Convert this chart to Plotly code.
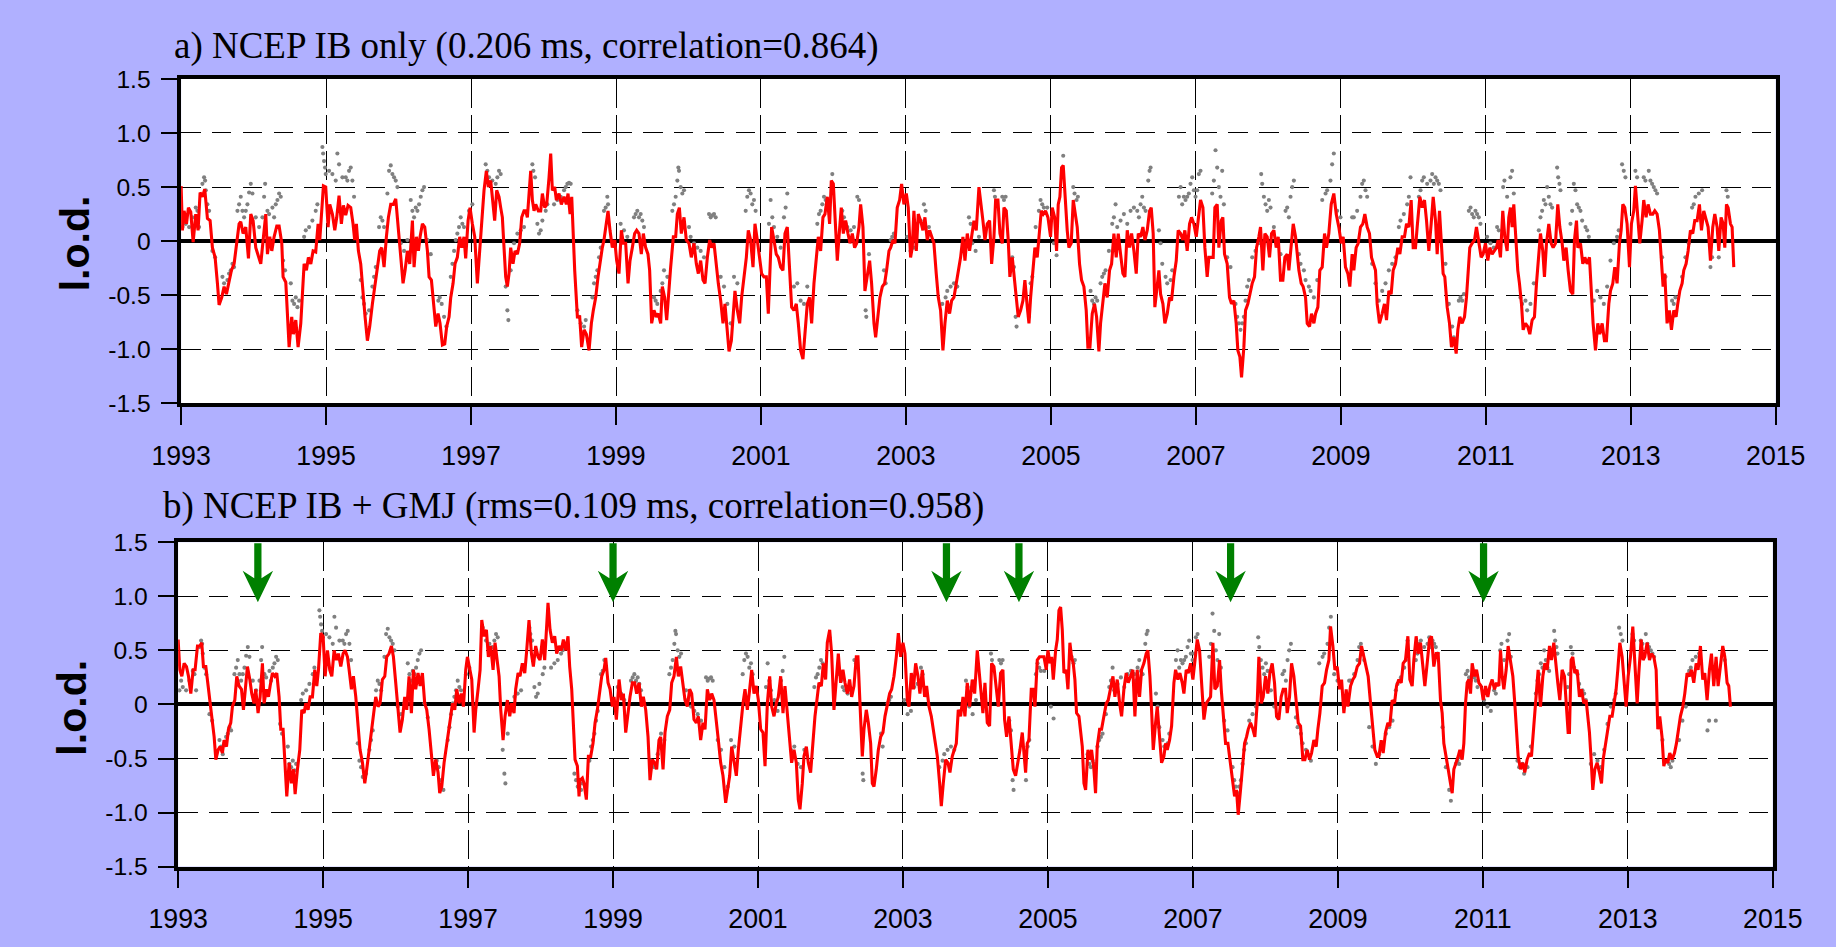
import plotly.graph_objects as go

# ---------------- data (decimal year, l.o.d. in ms) ----------------
# Panel a: model "NCEP IB only" (red line)
RED_A_1993_1998 = [(1993.000,0.51),(1993.018,0.10),(1993.041,0.28),(1993.074,0.16),(1993.101,0.31),(1993.133,0.27),(1993.166,-0.01),(1993.202,0.25),(1993.234,0.10),(1993.262,0.45),(1993.294,0.41),(1993.326,0.48),(1993.363,0.21),(1993.400,0.19),(1993.432,-0.06),(1993.469,-0.15),(1993.501,-0.39),(1993.524,-0.59),(1993.561,-0.52),(1993.593,-0.42),(1993.625,-0.49),(1993.662,-0.36),(1993.694,-0.27),(1993.731,-0.21),(1993.768,-0.02),(1993.800,0.16),(1993.823,0.18),(1993.855,0.07),(1993.892,0.13),(1993.929,-0.16),(1993.961,0.25),(1993.993,0.19),(1994.030,-0.06),(1994.067,-0.15),(1994.099,-0.21),(1994.136,0.04),(1994.168,0.25),(1994.191,-0.12),(1994.223,0.04),(1994.251,-0.09),(1994.283,0.04),(1994.320,0.14),(1994.352,0.14),(1994.389,-0.02),(1994.407,-0.33),(1994.444,-0.38),(1994.467,-0.64),(1994.490,-0.98),(1994.526,-0.70),(1994.549,-0.86),(1994.582,-0.73),(1994.614,-0.98),(1994.651,-0.76),(1994.674,-0.42),(1994.697,-0.21),(1994.729,-0.27),(1994.756,-0.15),(1994.789,-0.21),(1994.821,-0.09),(1994.857,-0.10),(1994.890,0.16),(1994.913,0.01),(1994.940,0.28),(1994.963,0.51),(1994.995,0.50),(1995.028,0.13),(1995.051,0.34),(1995.087,0.25),(1995.120,0.10),(1995.147,0.22),(1995.179,0.42),(1995.211,0.16),(1995.239,0.33),(1995.271,0.24),(1995.303,0.33),(1995.340,0.31),(1995.372,0.16),(1995.395,0.01),(1995.418,0.16),(1995.446,-0.09),(1995.478,-0.21),(1995.510,-0.52),(1995.538,-0.70),(1995.570,-0.92),(1995.602,-0.79),(1995.639,-0.58),(1995.671,-0.42),(1995.708,-0.21),(1995.740,-0.09),(1995.768,-0.06),(1995.800,-0.24),(1995.832,0.04),(1995.860,0.22),(1995.892,0.34),(1995.929,0.34),(1995.961,0.39),(1995.998,0.10),(1996.030,-0.15),(1996.062,-0.39),(1996.090,-0.27),(1996.122,-0.09),(1996.154,-0.21),(1996.191,0.19),(1996.214,-0.24),(1996.246,0.04),(1996.274,-0.09),(1996.297,0.04),(1996.329,0.16),(1996.361,0.13),(1996.398,-0.09),(1996.421,-0.33),(1996.453,-0.36),(1996.480,-0.58),(1996.513,-0.79),(1996.545,-0.67),(1996.572,-0.76),(1996.605,-0.96),(1996.637,-0.95),(1996.664,-0.79),(1996.697,-0.70),(1996.720,-0.52),(1996.752,-0.39),(1996.779,-0.21),(1996.811,-0.15),(1996.844,0.04),(1996.871,-0.06),(1996.903,0.04),(1996.926,-0.16),(1996.959,0.19),(1996.986,0.31),(1997.018,0.16),(1997.051,0.04),(1997.087,-0.39),(1997.120,-0.09),(1997.147,0.19),(1997.179,0.47),(1997.211,0.65),(1997.239,0.50),(1997.271,0.56),(1997.294,0.38),(1997.326,0.19),(1997.354,0.47),(1997.386,0.41),(1997.409,0.31),(1997.432,0.22),(1997.455,-0.06),(1997.478,-0.33),(1997.501,-0.42),(1997.524,-0.30),(1997.547,-0.06),(1997.579,-0.21),(1997.607,-0.09),(1997.639,-0.12),(1997.671,-0.02),(1997.699,0.22),(1997.731,0.28),(1997.754,0.28),(1997.777,0.22),(1997.800,0.47),(1997.823,0.65),(1997.846,0.38),(1997.869,0.28),(1997.892,0.34),(1997.929,0.28),(1997.961,0.28),(1997.984,0.44),(1998.016,0.31),(1998.044,0.34),(1998.076,0.59),(1998.099,0.81),(1998.122,0.47),(1998.154,0.50),(1998.177,0.38),(1998.214,0.44),(1998.246,0.34),(1998.283,0.41),(1998.315,0.34),(1998.338,0.44),(1998.366,0.25),(1998.389,0.41)]
RED_A_1998_2004 = [(1998.430,-0.27),(1998.467,-0.70),(1998.499,-0.70),(1998.526,-0.98),(1998.559,-0.82),(1998.591,-0.86),(1998.628,-1.01),(1998.660,-0.76),(1998.687,-0.64),(1998.720,-0.52),(1998.752,-0.33),(1998.779,-0.18),(1998.811,-0.06),(1998.834,0.01),(1998.862,0.16),(1998.890,0.28),(1998.917,0.10),(1998.949,-0.06),(1998.982,0.01),(1999.009,-0.18),(1999.041,-0.30),(1999.074,0.10),(1999.101,-0.02),(1999.133,-0.02),(1999.166,-0.39),(1999.193,-0.18),(1999.225,-0.06),(1999.257,0.07),(1999.285,0.10),(1999.317,0.07),(1999.349,-0.12),(1999.377,0.07),(1999.409,-0.06),(1999.441,-0.12),(1999.464,-0.27),(1999.492,-0.76),(1999.524,-0.64),(1999.556,-0.70),(1999.584,-0.67),(1999.616,-0.76),(1999.639,-0.42),(1999.671,-0.52),(1999.699,-0.73),(1999.731,-0.39),(1999.754,-0.24),(1999.791,0.04),(1999.823,0.04),(1999.846,0.25),(1999.874,0.31),(1999.901,0.07),(1999.938,0.22),(1999.970,0.01),(2000.007,-0.02),(2000.039,-0.15),(2000.076,-0.02),(2000.108,-0.21),(2000.136,-0.30),(2000.168,-0.18),(2000.200,-0.36),(2000.228,-0.39),(2000.260,-0.15),(2000.292,0.01),(2000.320,-0.06),(2000.352,-0.02),(2000.384,-0.24),(2000.411,-0.39),(2000.444,-0.55),(2000.476,-0.76),(2000.503,-0.58),(2000.536,-0.82),(2000.559,-1.02),(2000.591,-0.92),(2000.618,-0.70),(2000.641,-0.46),(2000.674,-0.64),(2000.706,-0.76),(2000.733,-0.52),(2000.766,-0.33),(2000.798,-0.15),(2000.825,0.10),(2000.857,0.01),(2000.890,-0.24),(2000.917,0.16),(2000.949,0.01),(2000.982,-0.15),(2001.009,-0.30),(2001.041,-0.33),(2001.074,-0.33),(2001.101,-0.67),(2001.124,-0.15),(2001.147,0.13),(2001.179,0.01),(2001.211,-0.12),(2001.239,-0.15),(2001.271,-0.24),(2001.303,-0.27),(2001.331,0.07),(2001.363,0.13),(2001.395,-0.30),(2001.423,-0.61),(2001.455,-0.64),(2001.487,-0.58),(2001.515,-0.76),(2001.547,-1.01),(2001.579,-1.09),(2001.607,-0.82),(2001.639,-0.58),(2001.671,-0.52),(2001.699,-0.76),(2001.731,-0.39),(2001.763,-0.15),(2001.791,0.04),(2001.823,-0.09),(2001.855,0.22),(2001.883,0.25),(2001.915,0.41),(2001.947,0.16),(2001.970,0.56),(2001.998,0.53),(2002.021,0.25),(2002.053,-0.18),(2002.076,0.04),(2002.108,0.31),(2002.136,0.07),(2002.168,0.19),(2002.200,0.07),(2002.228,-0.02),(2002.260,0.07),(2002.292,-0.06),(2002.320,-0.02),(2002.352,0.13),(2002.375,0.34),(2002.407,0.13),(2002.434,-0.46),(2002.467,-0.30),(2002.499,-0.18),(2002.526,-0.39),(2002.559,-0.76),(2002.582,-0.89),(2002.614,-0.70),(2002.641,-0.52),(2002.674,-0.42),(2002.706,-0.39),(2002.733,-0.27),(2002.766,-0.09),(2002.789,-0.06),(2002.821,0.01),(2002.848,-0.02),(2002.880,0.31),(2002.913,0.38),(2002.940,0.53),(2002.972,0.34),(2003.005,0.44),(2003.032,0.31),(2003.064,-0.15),(2003.087,-0.06),(2003.110,0.28),(2003.143,-0.09),(2003.170,0.25),(2003.202,0.19),(2003.234,0.10),(2003.262,0.22),(2003.294,0.01),(2003.326,0.10),(2003.354,0.04),(2003.386,-0.02),(2003.418,-0.30),(2003.446,-0.52),(2003.478,-0.64),(2003.510,-1.01),(2003.538,-0.76),(2003.570,-0.55),(2003.602,-0.67),(2003.630,-0.55),(2003.662,-0.52),(2003.694,-0.39),(2003.722,-0.27),(2003.754,-0.15),(2003.786,0.04),(2003.814,-0.18),(2003.846,0.07),(2003.878,-0.09),(2003.906,0.04),(2003.938,0.19),(2003.970,0.10),(2004.007,0.50)]
RED_A_2004_2009 = [(2004.062,0.19),(2004.090,0.01),(2004.122,0.16),(2004.154,0.19),(2004.182,-0.21),(2004.214,0.04),(2004.237,0.38),(2004.269,0.38),(2004.297,0.07),(2004.329,-0.02),(2004.352,0.31),(2004.384,0.28),(2004.411,0.01),(2004.434,-0.33),(2004.467,-0.15),(2004.490,-0.33),(2004.522,-0.52),(2004.549,-0.70),(2004.582,-0.64),(2004.614,-0.55),(2004.641,-0.36),(2004.674,-0.61),(2004.697,-0.76),(2004.720,-0.52),(2004.752,-0.30),(2004.779,-0.06),(2004.811,-0.15),(2004.834,0.04),(2004.867,0.28),(2004.894,0.25),(2004.926,0.28),(2004.959,0.22),(2004.995,0.04),(2005.018,0.31),(2005.051,0.22),(2005.078,-0.09),(2005.101,0.34),(2005.124,0.41),(2005.147,0.68),(2005.170,0.70),(2005.193,0.41),(2005.225,0.10),(2005.248,-0.06),(2005.280,-0.02),(2005.308,0.38),(2005.340,0.22),(2005.363,0.13),(2005.395,-0.21),(2005.423,-0.36),(2005.455,-0.42),(2005.487,-0.64),(2005.510,-0.98),(2005.538,-0.98),(2005.570,-0.67),(2005.602,-0.58),(2005.630,-0.70),(2005.662,-1.02),(2005.685,-0.76),(2005.717,-0.52),(2005.745,-0.39),(2005.777,-0.52),(2005.809,-0.27),(2005.837,-0.21),(2005.869,0.07),(2005.901,-0.15),(2005.929,0.07),(2005.961,-0.12),(2005.993,-0.30),(2006.021,-0.33),(2006.053,0.10),(2006.085,-0.06),(2006.113,0.07),(2006.145,-0.09),(2006.177,-0.30),(2006.205,0.07),(2006.237,0.04),(2006.269,0.13),(2006.297,0.01),(2006.329,0.10),(2006.361,0.28),(2006.384,0.31),(2006.411,0.07),(2006.434,-0.61),(2006.457,-0.46),(2006.490,-0.27),(2006.513,-0.49),(2006.545,-0.58),(2006.572,-0.76),(2006.605,-0.67),(2006.637,-0.52),(2006.664,-0.55),(2006.697,-0.33),(2006.729,-0.18),(2006.756,0.10),(2006.789,0.07),(2006.821,0.01),(2006.848,0.10),(2006.880,-0.09),(2006.913,0.16),(2006.940,0.22),(2006.972,0.16),(2007.005,0.04),(2007.032,0.22),(2007.064,0.38),(2007.097,0.31),(2007.124,-0.06),(2007.156,-0.33),(2007.179,-0.15),(2007.211,-0.15),(2007.239,-0.15),(2007.262,0.31),(2007.294,0.34),(2007.317,-0.06),(2007.349,0.19),(2007.372,0.22),(2007.395,-0.12),(2007.432,-0.21),(2007.464,-0.52),(2007.492,-0.58),(2007.524,-0.55),(2007.556,-0.76),(2007.579,-1.01),(2007.607,-1.07),(2007.630,-1.26),(2007.662,-0.98),(2007.685,-0.64),(2007.717,-0.58),(2007.745,-0.49),(2007.777,-0.39),(2007.809,-0.33),(2007.837,-0.06),(2007.869,0.04),(2007.892,0.13),(2007.924,-0.27),(2007.952,0.07),(2007.984,0.04),(2008.016,-0.15),(2008.044,0.07),(2008.076,0.10),(2008.108,-0.06),(2008.136,0.04),(2008.168,-0.36),(2008.200,-0.36),(2008.228,-0.15),(2008.260,-0.12),(2008.283,-0.27),(2008.315,-0.06),(2008.343,0.16),(2008.375,0.04),(2008.398,-0.09),(2008.421,-0.27),(2008.453,-0.39),(2008.480,-0.42),(2008.513,-0.52),(2008.536,-0.76),(2008.568,-0.79),(2008.595,-0.67),(2008.628,-0.76),(2008.651,-0.67),(2008.683,-0.61),(2008.710,-0.27),(2008.743,-0.24),(2008.775,0.07),(2008.802,-0.06),(2008.834,0.07),(2008.867,0.34),(2008.903,0.44),(2008.936,0.25),(2008.972,0.13),(2009.005,-0.02),(2009.032,0.04),(2009.064,-0.24),(2009.097,-0.30),(2009.124,-0.42),(2009.156,-0.12),(2009.179,-0.27),(2009.211,-0.06),(2009.239,-0.02),(2009.271,0.13),(2009.303,0.16),(2009.331,0.25),(2009.363,0.13),(2009.395,0.07),(2009.423,-0.15)]
RED_A_2009_2014 = [(2009.478,-0.27),(2009.501,-0.58),(2009.533,-0.76),(2009.570,-0.67),(2009.602,-0.58),(2009.630,-0.73),(2009.662,-0.46),(2009.694,-0.49),(2009.722,-0.27),(2009.754,-0.21),(2009.786,-0.06),(2009.814,-0.12),(2009.846,0.04),(2009.878,0.04),(2009.906,0.16),(2009.938,0.13),(2009.970,0.38),(2009.998,-0.06),(2010.030,-0.06),(2010.053,0.13),(2010.090,0.41),(2010.122,0.31),(2010.154,0.38),(2010.182,0.19),(2010.214,-0.09),(2010.246,0.16),(2010.274,0.41),(2010.306,0.19),(2010.329,-0.12),(2010.361,0.28),(2010.389,-0.06),(2010.411,-0.30),(2010.434,-0.33),(2010.467,-0.61),(2010.499,-0.76),(2010.526,-0.98),(2010.559,-0.89),(2010.591,-1.04),(2010.614,-0.82),(2010.641,-0.70),(2010.674,-0.76),(2010.706,-0.70),(2010.733,-0.52),(2010.756,-0.27),(2010.779,-0.06),(2010.811,-0.02),(2010.844,0.01),(2010.871,0.13),(2010.903,-0.02),(2010.936,-0.15),(2010.963,-0.12),(2010.995,-0.02),(2011.028,-0.18),(2011.055,-0.06),(2011.087,-0.12),(2011.120,-0.09),(2011.147,-0.06),(2011.170,0.01),(2011.202,-0.15),(2011.234,0.28),(2011.262,0.04),(2011.294,-0.09),(2011.317,0.22),(2011.340,0.31),(2011.363,0.13),(2011.386,0.34),(2011.418,-0.02),(2011.441,-0.27),(2011.464,-0.39),(2011.492,-0.58),(2011.515,-0.82),(2011.547,-0.76),(2011.579,-0.79),(2011.607,-0.86),(2011.639,-0.73),(2011.671,-0.70),(2011.699,-0.39),(2011.731,-0.15),(2011.754,0.07),(2011.786,-0.09),(2011.809,-0.33),(2011.837,-0.02),(2011.869,0.16),(2011.901,-0.02),(2011.929,-0.06),(2011.961,-0.02),(2011.993,0.34),(2012.021,0.13),(2012.053,-0.02),(2012.076,-0.18),(2012.108,-0.06),(2012.136,-0.27),(2012.168,-0.46),(2012.200,-0.49),(2012.223,0.01),(2012.251,0.19),(2012.269,-0.06),(2012.306,-0.02),(2012.338,-0.21),(2012.366,-0.15),(2012.398,-0.21),(2012.430,-0.15),(2012.457,-0.46),(2012.480,-0.76),(2012.513,-1.01),(2012.545,-0.76),(2012.572,-0.86),(2012.605,-0.76),(2012.637,-0.92),(2012.664,-0.92),(2012.697,-0.58),(2012.720,-0.46),(2012.752,-0.39),(2012.779,-0.24),(2012.811,-0.39),(2012.844,-0.02),(2012.867,0.10),(2012.890,0.34),(2012.917,0.31),(2012.949,0.16),(2012.982,-0.24),(2013.009,0.16),(2013.041,0.28),(2013.064,0.51),(2013.097,0.22),(2013.124,-0.02),(2013.156,0.19),(2013.179,0.38),(2013.211,0.22),(2013.239,0.34),(2013.271,0.25),(2013.303,0.25),(2013.331,0.28),(2013.363,0.25),(2013.395,0.10),(2013.423,-0.21),(2013.446,-0.42),(2013.469,-0.30),(2013.501,-0.76),(2013.533,-0.64),(2013.561,-0.82),(2013.593,-0.64),(2013.625,-0.70),(2013.648,-0.58),(2013.676,-0.46),(2013.708,-0.39),(2013.731,-0.27),(2013.763,-0.21),(2013.791,-0.09),(2013.823,0.10),(2013.855,0.07),(2013.883,0.19),(2013.915,0.19),(2013.947,0.34),(2013.975,0.10),(2014.007,0.28),(2014.039,0.19),(2014.067,0.13),(2014.099,-0.18),(2014.131,0.13),(2014.159,0.25),(2014.191,0.13),(2014.214,-0.09),(2014.246,0.22),(2014.274,0.16),(2014.297,-0.06),(2014.320,0.34),(2014.343,0.31),(2014.375,0.16),(2014.398,0.13),(2014.421,-0.24)]

# Panel b: model "NCEP IB + GMJ" (red line)
RED_B_1993_1998 = [(1993.000,0.60),(1993.023,0.32),(1993.051,0.26),(1993.083,0.38),(1993.115,0.35),(1993.143,0.26),(1993.175,0.10),(1993.207,0.32),(1993.234,0.32),(1993.267,0.54),(1993.299,0.54),(1993.326,0.57),(1993.349,0.35),(1993.382,0.35),(1993.414,0.17),(1993.441,0.04),(1993.474,-0.17),(1993.497,-0.30),(1993.520,-0.51),(1993.552,-0.42),(1993.579,-0.39),(1993.611,-0.45),(1993.634,-0.33),(1993.667,-0.39),(1993.694,-0.23),(1993.726,-0.17),(1993.749,-0.02),(1993.782,0.04),(1993.809,0.26),(1993.841,0.17),(1993.874,0.14),(1993.901,-0.05),(1993.933,0.20),(1993.956,0.35),(1993.989,0.23),(1994.016,0.10),(1994.048,0.01),(1994.071,0.14),(1994.103,-0.08),(1994.131,0.07),(1994.163,0.38),(1994.186,0.01),(1994.218,0.14),(1994.246,0.07),(1994.269,0.17),(1994.301,0.29),(1994.333,0.26),(1994.361,0.29),(1994.393,0.07),(1994.416,-0.23),(1994.448,-0.23),(1994.476,-0.63),(1994.499,-0.85),(1994.531,-0.54),(1994.563,-0.73),(1994.591,-0.60),(1994.614,-0.83),(1994.646,-0.60),(1994.678,-0.42),(1994.706,-0.05),(1994.738,-0.08),(1994.761,0.01),(1994.793,-0.05),(1994.821,0.07),(1994.853,0.07),(1994.885,0.32),(1994.913,0.17),(1994.936,0.32),(1994.968,0.66),(1995.000,0.63),(1995.028,0.26),(1995.060,0.50),(1995.092,0.32),(1995.120,0.26),(1995.152,0.50),(1995.184,0.41),(1995.211,0.47),(1995.244,0.35),(1995.276,0.47),(1995.303,0.50),(1995.336,0.44),(1995.359,0.32),(1995.391,0.14),(1995.418,0.26),(1995.451,0.07),(1995.483,-0.20),(1995.510,-0.42),(1995.543,-0.54),(1995.575,-0.73),(1995.602,-0.60),(1995.634,-0.42),(1995.667,-0.23),(1995.694,-0.11),(1995.726,0.07),(1995.759,-0.02),(1995.786,0.01),(1995.818,0.23),(1995.851,0.26),(1995.878,0.44),(1995.910,0.47),(1995.943,0.54),(1995.970,0.44),(1996.002,0.20),(1996.034,-0.05),(1996.062,-0.26),(1996.094,-0.14),(1996.126,0.07),(1996.154,-0.05),(1996.186,0.26),(1996.218,-0.08),(1996.246,0.32),(1996.278,0.14),(1996.310,0.29),(1996.338,0.17),(1996.370,0.29),(1996.402,0.01),(1996.430,-0.05),(1996.462,-0.23),(1996.494,-0.48),(1996.522,-0.66),(1996.554,-0.51),(1996.586,-0.63),(1996.609,-0.82),(1996.637,-0.76),(1996.669,-0.54),(1996.701,-0.36),(1996.729,-0.26),(1996.761,-0.11),(1996.784,0.01),(1996.816,-0.05),(1996.844,0.14),(1996.876,0.01),(1996.908,0.10),(1996.936,-0.02),(1996.968,0.32),(1996.991,0.44),(1997.023,0.32),(1997.051,0.23),(1997.083,-0.26),(1997.106,-0.05),(1997.138,0.14),(1997.166,0.32),(1997.189,0.78),(1997.221,0.63),(1997.253,0.69),(1997.280,0.44),(1997.313,0.54),(1997.345,0.32),(1997.372,0.57),(1997.405,0.41),(1997.428,0.26),(1997.451,-0.05),(1997.483,-0.33),(1997.510,-0.11),(1997.543,0.04),(1997.575,-0.11),(1997.602,0.01),(1997.634,-0.08),(1997.657,0.14),(1997.690,0.29),(1997.717,0.26),(1997.749,0.38),(1997.782,0.29),(1997.809,0.50),(1997.841,0.78),(1997.874,0.47),(1997.901,0.35),(1997.933,0.54),(1997.966,0.44),(1997.993,0.41),(1998.025,0.60),(1998.057,0.41),(1998.080,0.72),(1998.103,0.94),(1998.131,0.69),(1998.163,0.57),(1998.195,0.63),(1998.223,0.47),(1998.255,0.54),(1998.287,0.50),(1998.315,0.60),(1998.347,0.50),(1998.379,0.63),(1998.402,0.35),(1998.430,0.14),(1998.453,-0.23),(1998.476,-0.51),(1998.508,-0.57),(1998.531,-0.85)]
RED_B_1998_2004 = [(1998.545,-0.70),(1998.577,-0.68),(1998.600,-0.73),(1998.632,-0.88),(1998.660,-0.48),(1998.692,-0.48),(1998.724,-0.36),(1998.752,-0.17),(1998.784,-0.05),(1998.816,0.10),(1998.844,0.26),(1998.876,0.32),(1998.899,0.43),(1998.931,0.20),(1998.959,0.14),(1998.991,-0.02),(1999.014,0.07),(1999.046,-0.14),(1999.083,0.23),(1999.115,0.04),(1999.143,0.10),(1999.175,-0.26),(1999.207,-0.05),(1999.234,0.07),(1999.267,0.20),(1999.299,0.20),(1999.326,0.10),(1999.359,0.20),(1999.391,-0.02),(1999.418,0.07),(1999.451,-0.05),(1999.483,-0.30),(1999.510,-0.70),(1999.543,-0.51),(1999.575,-0.54),(1999.602,-0.60),(1999.634,-0.33),(1999.657,-0.30),(1999.690,-0.60),(1999.717,-0.26),(1999.749,-0.11),(1999.782,-0.05),(1999.809,0.20),(1999.841,0.26),(1999.874,0.44),(1999.901,0.26),(1999.933,0.35),(1999.966,0.17),(1999.993,0.04),(2000.025,-0.02),(2000.057,0.14),(2000.085,0.10),(2000.117,-0.14),(2000.149,-0.17),(2000.177,-0.11),(2000.209,-0.33),(2000.241,-0.17),(2000.269,-0.23),(2000.301,0.14),(2000.333,0.04),(2000.361,0.10),(2000.393,0.04),(2000.425,-0.20),(2000.453,-0.33),(2000.485,-0.54),(2000.517,-0.66),(2000.554,-0.91),(2000.577,-0.79),(2000.609,-0.66),(2000.637,-0.39),(2000.669,-0.54),(2000.701,-0.66),(2000.729,-0.42),(2000.761,-0.17),(2000.793,0.01),(2000.821,0.14),(2000.853,-0.05),(2000.885,0.14),(2000.913,0.32),(2000.945,0.10),(2000.977,0.17),(2001.005,0.04),(2001.037,-0.23),(2001.069,-0.26),(2001.097,-0.57),(2001.129,0.01),(2001.161,0.26),(2001.189,-0.02),(2001.221,-0.11),(2001.253,0.01),(2001.280,0.07),(2001.313,0.26),(2001.345,-0.08),(2001.372,0.17),(2001.405,-0.08),(2001.437,-0.36),(2001.464,-0.54),(2001.497,-0.42),(2001.529,-0.54),(2001.556,-0.88),(2001.579,-0.97),(2001.611,-0.73),(2001.634,-0.48),(2001.667,-0.39),(2001.694,-0.54),(2001.726,-0.63),(2001.759,-0.30),(2001.786,-0.11),(2001.818,0.07),(2001.841,0.20),(2001.874,0.17),(2001.901,0.38),(2001.933,0.23),(2001.956,0.57),(2001.989,0.69),(2002.016,0.47),(2002.048,-0.05),(2002.080,0.20),(2002.108,0.47),(2002.140,0.20),(2002.172,0.32),(2002.200,0.20),(2002.232,0.10),(2002.264,0.23),(2002.292,0.07),(2002.324,0.17),(2002.356,0.44),(2002.379,0.44),(2002.407,-0.05),(2002.439,-0.48),(2002.462,-0.23),(2002.494,-0.05),(2002.522,-0.17),(2002.554,-0.36),(2002.577,-0.73),(2002.600,-0.76),(2002.632,-0.60),(2002.660,-0.42),(2002.692,-0.30),(2002.724,-0.26),(2002.752,-0.11),(2002.784,0.01),(2002.816,0.10),(2002.844,0.14),(2002.876,0.26),(2002.908,0.44),(2002.936,0.66),(2002.968,0.44),(2003.000,0.57),(2003.028,0.47),(2003.060,0.04),(2003.083,-0.02),(2003.115,0.29),(2003.143,0.14),(2003.175,0.38),(2003.207,0.26),(2003.234,0.10),(2003.267,0.32),(2003.299,0.07),(2003.326,0.17),(2003.359,-0.02),(2003.391,-0.11),(2003.418,-0.23),(2003.451,-0.39),(2003.474,-0.48),(2003.506,-0.73),(2003.529,-0.94),(2003.556,-0.73),(2003.589,-0.51),(2003.621,-0.54),(2003.648,-0.63),(2003.680,-0.48),(2003.703,-0.42),(2003.736,-0.36),(2003.763,-0.05),(2003.795,-0.11),(2003.828,0.07),(2003.855,-0.11),(2003.887,0.20),(2003.920,-0.02),(2003.956,0.23),(2003.989,0.10),(2004.025,0.50)]
RED_B_2004_2009 = [(2004.071,0.17),(2004.103,-0.08),(2004.131,0.20),(2004.163,-0.17),(2004.195,-0.20),(2004.223,0.38),(2004.255,0.35),(2004.287,0.17),(2004.315,-0.02),(2004.347,0.29),(2004.379,0.32),(2004.402,-0.14),(2004.430,-0.30),(2004.462,-0.11),(2004.494,-0.36),(2004.522,-0.60),(2004.554,-0.66),(2004.586,-0.54),(2004.614,-0.42),(2004.646,-0.26),(2004.669,-0.42),(2004.692,-0.63),(2004.715,-0.36),(2004.738,-0.33),(2004.770,0.14),(2004.798,0.14),(2004.821,-0.02),(2004.853,0.41),(2004.885,0.44),(2004.913,0.44),(2004.945,0.44),(2004.977,0.32),(2005.000,0.50),(2005.028,0.38),(2005.051,0.44),(2005.074,0.23),(2005.106,0.50),(2005.129,0.60),(2005.152,0.87),(2005.175,0.90),(2005.198,0.69),(2005.221,0.29),(2005.253,0.32),(2005.276,0.14),(2005.303,0.57),(2005.326,0.44),(2005.349,0.38),(2005.372,0.23),(2005.395,-0.08),(2005.428,-0.11),(2005.451,-0.23),(2005.474,-0.39),(2005.497,-0.73),(2005.520,-0.79),(2005.552,-0.42),(2005.579,-0.51),(2005.602,-0.42),(2005.634,-0.60),(2005.657,-0.82),(2005.680,-0.39),(2005.713,-0.23),(2005.740,-0.23),(2005.772,-0.11),(2005.805,0.01),(2005.832,0.04),(2005.864,0.14),(2005.897,0.26),(2005.924,0.07),(2005.956,0.23),(2005.989,0.01),(2006.016,-0.11),(2006.048,0.14),(2006.080,0.29),(2006.108,0.20),(2006.140,0.26),(2006.172,0.32),(2006.200,-0.11),(2006.232,0.32),(2006.264,0.07),(2006.292,0.32),(2006.324,0.38),(2006.356,0.47),(2006.379,0.50),(2006.407,0.26),(2006.430,-0.05),(2006.453,-0.42),(2006.485,-0.17),(2006.508,-0.02),(2006.540,-0.30),(2006.568,-0.54),(2006.600,-0.48),(2006.623,-0.36),(2006.646,-0.42),(2006.678,-0.33),(2006.706,-0.20),(2006.738,0.20),(2006.761,0.32),(2006.793,0.23),(2006.821,0.29),(2006.853,0.20),(2006.876,0.10),(2006.908,0.32),(2006.936,0.29),(2006.968,0.38),(2007.000,0.23),(2007.028,0.41),(2007.060,0.60),(2007.092,0.50),(2007.120,0.20),(2007.152,-0.14),(2007.184,0.01),(2007.211,0.04),(2007.244,0.07),(2007.276,0.57),(2007.303,0.14),(2007.336,0.17),(2007.368,0.41),(2007.391,0.14),(2007.418,-0.11),(2007.451,-0.36),(2007.483,-0.36),(2007.510,-0.51),(2007.543,-0.70),(2007.575,-0.85),(2007.602,-0.79),(2007.625,-1.02),(2007.657,-0.79),(2007.690,-0.54),(2007.713,-0.36),(2007.740,-0.30),(2007.763,-0.23),(2007.795,-0.17),(2007.828,-0.23),(2007.855,-0.30),(2007.887,0.01),(2007.910,0.44),(2007.943,0.01),(2007.970,0.07),(2008.002,0.26),(2008.034,0.10),(2008.062,0.29),(2008.094,0.38),(2008.126,0.20),(2008.154,-0.11),(2008.186,-0.14),(2008.218,0.07),(2008.246,0.14),(2008.278,0.14),(2008.301,-0.08),(2008.333,0.07),(2008.361,0.38),(2008.393,0.26),(2008.425,0.01),(2008.453,-0.17),(2008.485,-0.20),(2008.517,-0.51),(2008.545,-0.51),(2008.577,-0.42),(2008.609,-0.51),(2008.637,-0.45),(2008.669,-0.33),(2008.701,-0.39),(2008.724,-0.23),(2008.752,-0.08),(2008.784,0.17),(2008.816,0.20),(2008.844,0.32),(2008.876,0.41),(2008.899,0.72),(2008.931,0.54),(2008.959,0.32),(2008.991,0.35),(2009.023,0.14),(2009.051,0.23),(2009.083,-0.08),(2009.115,0.14),(2009.138,-0.02),(2009.175,0.17),(2009.207,0.23),(2009.234,0.26),(2009.267,0.35),(2009.299,0.38),(2009.326,0.54),(2009.359,0.44),(2009.391,0.32),(2009.418,0.26),(2009.451,0.01),(2009.483,-0.23),(2009.510,-0.42),(2009.543,-0.48)]
RED_B_2009_2014 = [(2009.566,-0.48),(2009.598,-0.33),(2009.625,-0.45),(2009.657,-0.26),(2009.690,-0.17),(2009.717,-0.20),(2009.749,0.04),(2009.782,0.01),(2009.809,0.17),(2009.841,0.23),(2009.874,0.20),(2009.901,0.38),(2009.933,0.41),(2009.966,0.63),(2009.993,0.23),(2010.025,0.17),(2010.048,0.41),(2010.080,0.63),(2010.108,0.47),(2010.140,0.57),(2010.172,0.38),(2010.200,0.17),(2010.232,0.38),(2010.264,0.60),(2010.292,0.63),(2010.324,0.35),(2010.356,0.47),(2010.384,0.47),(2010.416,0.04),(2010.439,-0.08),(2010.462,-0.36),(2010.494,-0.51),(2010.522,-0.60),(2010.554,-0.73),(2010.577,-0.82),(2010.600,-0.60),(2010.632,-0.54),(2010.660,-0.48),(2010.683,-0.42),(2010.715,-0.51),(2010.738,-0.36),(2010.761,0.01),(2010.784,0.20),(2010.807,0.23),(2010.830,0.10),(2010.853,0.38),(2010.885,0.26),(2010.913,0.32),(2010.945,0.20),(2010.977,0.17),(2011.005,0.04),(2011.037,0.17),(2011.069,0.07),(2011.097,0.17),(2011.129,0.23),(2011.161,0.14),(2011.189,0.20),(2011.221,0.17),(2011.244,0.50),(2011.267,0.26),(2011.290,0.14),(2011.322,0.32),(2011.349,0.54),(2011.382,0.38),(2011.414,0.26),(2011.441,0.01),(2011.464,-0.30),(2011.487,-0.48),(2011.520,-0.60),(2011.552,-0.54),(2011.579,-0.63),(2011.611,-0.51),(2011.644,-0.45),(2011.671,-0.48),(2011.703,-0.20),(2011.736,0.10),(2011.763,0.32),(2011.795,-0.02),(2011.828,0.26),(2011.855,0.38),(2011.887,0.32),(2011.920,0.54),(2011.947,0.41),(2011.979,0.57),(2012.002,0.44),(2012.034,0.20),(2012.062,0.04),(2012.094,0.32),(2012.126,0.26),(2012.154,-0.08),(2012.177,-0.26),(2012.195,-0.26),(2012.218,0.41),(2012.241,0.44),(2012.269,0.29),(2012.301,0.32),(2012.333,0.07),(2012.361,0.14),(2012.393,0.01),(2012.425,0.04),(2012.453,-0.11),(2012.471,-0.26),(2012.494,-0.51),(2012.517,-0.79),(2012.545,-0.60),(2012.577,-0.54),(2012.609,-0.63),(2012.637,-0.73),(2012.660,-0.51),(2012.692,-0.36),(2012.724,-0.23),(2012.752,-0.11),(2012.784,-0.11),(2012.807,0.01),(2012.839,0.14),(2012.862,0.32),(2012.890,0.57),(2012.922,0.44),(2012.954,0.20),(2012.977,-0.02),(2013.005,0.26),(2013.037,0.44),(2013.069,0.72),(2013.097,0.41),(2013.129,0.01),(2013.152,0.29),(2013.184,0.60),(2013.211,0.41),(2013.234,0.44),(2013.267,0.57),(2013.299,0.41),(2013.326,0.47),(2013.359,0.44),(2013.391,0.32),(2013.414,-0.23),(2013.441,-0.11),(2013.472,-0.30),(2013.497,-0.57),(2013.520,-0.51),(2013.552,-0.54),(2013.579,-0.45),(2013.611,-0.51),(2013.644,-0.45),(2013.671,-0.36),(2013.703,-0.23),(2013.726,-0.11),(2013.759,-0.02),(2013.786,0.10),(2013.818,0.29),(2013.851,0.26),(2013.878,0.32),(2013.910,0.20),(2013.943,0.38),(2013.970,0.32),(2014.002,0.54),(2014.034,0.23),(2014.062,0.29),(2014.094,0.04),(2014.126,0.32),(2014.154,0.47),(2014.186,0.17),(2014.218,0.44),(2014.246,0.17),(2014.278,0.38),(2014.310,0.54),(2014.338,0.44),(2014.370,0.20),(2014.393,0.17),(2014.416,-0.02)]

# Observed l.o.d. (grey dots, same in both panels)
OBS_1993_1998 = [(1993.018,0.13),(1993.041,0.22),(1993.064,0.16),(1993.110,0.13),(1993.156,0.22),(1993.202,0.31),(1993.225,0.28),(1993.248,0.13),(1993.294,0.53),(1993.317,0.59),(1993.331,0.56),(1993.340,0.47),(1993.363,0.34),(1993.386,0.28),(1993.432,-0.09),(1993.469,-0.15),(1993.570,-0.33),(1993.593,-0.39),(1993.616,-0.46),(1993.639,-0.36),(1993.662,-0.30),(1993.685,-0.27),(1993.708,-0.21),(1993.731,-0.24),(1993.777,0.28),(1993.800,0.34),(1993.823,0.41),(1993.846,0.28),(1993.869,0.22),(1993.892,0.28),(1993.915,0.34),(1993.938,0.45),(1993.961,0.53),(1993.984,0.44),(1994.030,0.22),(1994.076,0.13),(1994.122,0.22),(1994.145,0.41),(1994.159,0.53),(1994.191,0.28),(1994.214,0.25),(1994.260,0.31),(1994.283,0.22),(1994.306,0.34),(1994.329,0.38),(1994.352,0.44),(1994.375,0.41),(1994.407,-0.18),(1994.434,-0.27),(1994.513,-0.39),(1994.536,-0.55),(1994.559,-0.58),(1994.582,-0.52),(1994.605,-0.61),(1994.628,-0.55),(1994.697,0.04),(1994.720,0.10),(1994.766,0.13),(1994.811,0.19),(1994.857,0.28),(1994.880,0.34),(1994.949,0.87),(1994.959,0.81),(1994.972,0.74),(1994.986,0.68),(1994.995,0.62),(1995.041,0.65),(1995.087,0.62),(1995.133,0.56),(1995.156,0.81),(1995.179,0.71),(1995.225,0.59),(1995.271,0.59),(1995.294,0.56),(1995.317,0.65),(1995.340,0.68),(1995.363,0.56),(1995.386,0.41),(1995.478,-0.36),(1995.501,-0.52),(1995.524,-0.58),(1995.547,-0.67),(1995.593,-0.64),(1995.639,-0.42),(1995.662,-0.33),(1995.685,-0.24),(1995.731,0.13),(1995.754,0.22),(1995.777,0.19),(1995.800,0.13),(1995.846,0.44),(1995.869,0.65),(1995.892,0.70),(1995.915,0.62),(1995.938,0.59),(1995.961,0.56),(1995.984,0.50),(1996.030,-0.02),(1996.076,-0.09),(1996.122,0.01),(1996.168,0.38),(1996.191,0.28),(1996.214,0.22),(1996.237,0.31),(1996.260,0.28),(1996.283,0.34),(1996.306,0.41),(1996.329,0.47),(1996.352,0.50),(1996.398,0.01),(1996.444,-0.12),(1996.549,-0.55),(1996.568,-0.52),(1996.595,-0.58),(1996.628,-0.70),(1996.660,-0.79),(1996.720,-0.33),(1996.743,-0.21),(1996.766,-0.09),(1996.789,0.01),(1996.811,0.07),(1996.834,0.13),(1996.857,0.22),(1996.880,0.16),(1996.903,0.13),(1996.972,0.28),(1997.018,0.34),(1997.202,0.71),(1997.225,0.65),(1997.248,0.59),(1997.294,0.56),(1997.340,0.53),(1997.363,0.59),(1997.386,0.65),(1997.409,0.62),(1997.478,-0.42),(1997.501,-0.64),(1997.515,-0.73),(1997.547,-0.27),(1997.593,-0.02),(1997.639,0.07),(1997.685,0.10),(1997.731,0.13),(1997.846,0.71),(1997.860,0.65),(1997.883,0.59),(1997.915,0.16),(1997.938,0.07),(1997.961,0.10),(1997.984,0.19),(1998.030,0.28),(1998.053,0.34),(1998.145,0.34),(1998.191,0.38),(1998.237,0.41),(1998.283,0.47),(1998.306,0.50),(1998.329,0.53),(1998.352,0.54),(1998.375,0.53)]
OBS_1998_2004 = [(1998.467,-0.64),(1998.490,-0.70),(1998.513,-0.76),(1998.559,-0.79),(1998.582,-0.73),(1998.674,-0.52),(1998.697,-0.39),(1998.720,-0.33),(1998.743,-0.27),(1998.766,-0.15),(1998.789,-0.06),(1998.834,0.28),(1998.857,0.31),(1998.880,0.41),(1998.890,0.34),(1999.064,0.16),(1999.110,0.10),(1999.156,0.04),(1999.248,0.22),(1999.271,0.25),(1999.294,0.28),(1999.317,0.22),(1999.340,0.25),(1999.363,0.19),(1999.386,0.13),(1999.524,-0.52),(1999.547,-0.55),(1999.570,-0.58),(1999.616,-0.46),(1999.639,-0.39),(1999.662,-0.27),(1999.708,-0.33),(1999.777,0.28),(1999.800,0.34),(1999.823,0.41),(1999.846,0.56),(1999.860,0.68),(1999.869,0.65),(1999.892,0.50),(1999.915,0.44),(1999.938,0.47),(2000.007,0.13),(2000.030,0.04),(2000.076,-0.02),(2000.122,-0.06),(2000.168,-0.09),(2000.214,-0.15),(2000.283,0.25),(2000.306,0.22),(2000.329,0.24),(2000.352,0.25),(2000.375,0.22),(2000.444,-0.33),(2000.490,-0.42),(2000.536,-0.58),(2000.582,-0.76),(2000.628,-0.33),(2000.674,-0.39),(2000.789,0.28),(2000.811,0.41),(2000.834,0.47),(2000.857,0.44),(2000.880,0.34),(2000.903,0.38),(2000.926,0.28),(2001.110,0.16),(2001.133,0.38),(2001.156,0.22),(2001.179,0.13),(2001.225,0.04),(2001.271,-0.06),(2001.317,0.22),(2001.340,0.31),(2001.363,0.44),(2001.455,-0.42),(2001.501,-0.39),(2001.547,-0.55),(2001.593,-0.58),(2001.639,-0.42),(2001.777,0.16),(2001.800,0.25),(2001.823,0.28),(2001.846,0.34),(2001.869,0.41),(2001.892,0.38),(2001.984,0.62),(2002.122,0.28),(2002.145,0.22),(2002.168,0.16),(2002.191,0.13),(2002.237,0.10),(2002.283,0.13),(2002.329,0.41),(2002.352,0.38),(2002.444,-0.64),(2002.453,-0.70),(2002.490,-0.12),(2002.697,-0.27),(2002.720,-0.39),(2002.789,0.01),(2002.811,0.04),(2002.834,0.07),(2003.018,0.04),(2003.064,-0.09),(2003.110,-0.06),(2003.156,0.16),(2003.202,0.19),(2003.248,0.34),(2003.271,0.28),(2003.317,0.13),(2003.501,-0.58),(2003.547,-0.52),(2003.570,-0.46),(2003.616,-0.42),(2003.662,-0.39),(2003.708,-0.42),(2003.869,0.22),(2003.892,0.16)]
OBS_2004_2009 = [(2003.915,-0.02),(2003.961,-0.09),(2004.007,0.04),(2004.214,0.47),(2004.228,0.41),(2004.329,0.41),(2004.352,0.38),(2004.375,0.41),(2004.467,-0.15),(2004.490,-0.24),(2004.513,-0.70),(2004.526,-0.79),(2004.697,-0.70),(2004.720,-0.39),(2004.743,-0.33),(2004.789,0.13),(2004.834,0.28),(2004.857,0.38),(2004.880,0.34),(2004.903,0.31),(2004.949,0.31),(2005.041,-0.02),(2005.078,-0.13),(2005.170,0.79),(2005.308,0.50),(2005.326,0.44),(2005.354,0.38),(2005.372,0.41),(2005.547,-0.46),(2005.570,-0.55),(2005.593,-0.58),(2005.616,-0.52),(2005.639,-0.55),(2005.685,-0.39),(2005.708,-0.33),(2005.731,-0.30),(2005.754,-0.27),(2005.800,-0.09),(2005.846,0.16),(2005.869,0.22),(2005.892,0.34),(2005.915,0.13),(2005.961,0.19),(2006.007,0.25),(2006.053,0.16),(2006.099,0.28),(2006.145,0.31),(2006.191,0.28),(2006.214,0.22),(2006.237,0.34),(2006.260,0.41),(2006.283,0.31),(2006.306,0.28),(2006.343,0.56),(2006.361,0.65),(2006.375,0.68),(2006.490,0.10),(2006.513,-0.02),(2006.536,-0.21),(2006.582,-0.33),(2006.605,-0.39),(2006.651,-0.36),(2006.674,-0.27),(2006.766,0.41),(2006.789,0.50),(2006.811,0.34),(2006.834,0.41),(2006.857,0.38),(2006.880,0.41),(2006.903,0.44),(2006.926,0.53),(2006.949,0.59),(2006.972,0.47),(2006.995,0.41),(2007.018,0.47),(2007.041,0.62),(2007.064,0.65),(2007.225,0.44),(2007.248,0.56),(2007.271,0.84),(2007.294,0.68),(2007.317,0.50),(2007.340,0.41),(2007.363,0.65),(2007.386,0.34),(2007.432,-0.15),(2007.478,-0.24),(2007.547,-0.58),(2007.570,-0.70),(2007.593,-0.76),(2007.616,-0.82),(2007.639,-0.76),(2007.662,-0.70),(2007.685,-0.55),(2007.708,-0.42),(2007.731,-0.36),(2007.777,-0.15),(2007.823,-0.09),(2007.869,-0.02),(2007.901,0.62),(2007.915,0.53),(2007.938,0.41),(2007.961,0.34),(2007.984,0.28),(2008.007,0.38),(2008.030,0.31),(2008.076,0.13),(2008.122,-0.02),(2008.168,-0.12),(2008.237,0.28),(2008.260,0.31),(2008.283,0.22),(2008.306,0.41),(2008.329,0.50),(2008.352,0.56),(2008.421,-0.12),(2008.444,-0.21),(2008.490,-0.27),(2008.513,-0.36),(2008.559,-0.42),(2008.582,-0.46),(2008.628,-0.52),(2008.674,-0.36),(2008.743,0.38),(2008.789,0.44),(2008.811,0.47),(2008.857,0.56),(2008.880,0.71),(2008.903,0.81),(2008.949,0.28),(2008.995,0.22),(2009.156,0.22),(2009.179,0.22),(2009.225,0.28),(2009.271,0.41),(2009.294,0.53),(2009.317,0.56),(2009.340,0.47),(2009.363,0.41),(2009.432,-0.21),(2009.478,-0.39)]
OBS_2009_2014 = [(2009.524,-0.55),(2009.570,-0.46),(2009.616,-0.39),(2009.662,-0.27),(2009.708,-0.21),(2009.754,-0.15),(2009.800,0.13),(2009.823,0.19),(2009.869,0.25),(2009.915,0.34),(2009.938,0.41),(2009.961,0.59),(2010.076,0.41),(2010.099,0.47),(2010.122,0.56),(2010.145,0.59),(2010.191,0.53),(2010.237,0.56),(2010.260,0.62),(2010.283,0.53),(2010.306,0.59),(2010.329,0.56),(2010.352,0.53),(2010.375,0.47),(2010.444,-0.21),(2010.490,-0.58),(2010.536,-0.79),(2010.559,-0.89),(2010.628,-0.55),(2010.651,-0.52),(2010.674,-0.55),(2010.697,-0.49),(2010.766,0.28),(2010.789,0.31),(2010.811,0.25),(2010.834,0.22),(2010.857,0.28),(2010.880,0.25),(2010.903,0.22),(2010.926,0.16),(2011.018,0.04),(2011.064,-0.02),(2011.110,-0.06),(2011.156,0.13),(2011.179,0.10),(2011.239,0.50),(2011.257,0.56),(2011.294,0.41),(2011.340,0.59),(2011.363,0.65),(2011.386,0.44),(2011.478,-0.52),(2011.501,-0.58),(2011.547,-0.55),(2011.570,-0.64),(2011.616,-0.58),(2011.662,-0.39),(2011.731,0.10),(2011.754,0.22),(2011.777,0.28),(2011.800,0.38),(2011.823,0.34),(2011.846,0.50),(2011.869,0.41),(2011.892,0.34),(2011.915,0.31),(2011.984,0.68),(2011.998,0.59),(2012.016,0.53),(2012.030,0.47),(2012.168,0.16),(2012.191,0.28),(2012.214,0.53),(2012.237,0.47),(2012.260,0.34),(2012.283,0.31),(2012.306,0.28),(2012.329,0.19),(2012.375,0.13),(2012.398,0.10),(2012.421,0.04),(2012.490,-0.55),(2012.536,-0.46),(2012.582,-0.52),(2012.628,-0.58),(2012.674,-0.42),(2012.720,-0.18),(2012.766,-0.02),(2012.811,0.04),(2012.834,0.10),(2012.880,0.71),(2012.903,0.65),(2012.926,0.59),(2013.064,0.65),(2013.087,0.59),(2013.179,0.59),(2013.202,0.56),(2013.248,0.65),(2013.271,0.56),(2013.294,0.53),(2013.317,0.50),(2013.340,0.47),(2013.363,0.44),(2013.432,-0.15),(2013.478,-0.33),(2013.570,-0.55),(2013.593,-0.58),(2013.616,-0.52),(2013.708,-0.33),(2013.754,-0.15),(2013.800,-0.02),(2013.846,0.31),(2013.869,0.34),(2013.892,0.41),(2013.938,0.44),(2013.984,0.47),(2014.099,-0.24),(2014.122,-0.15),(2014.214,-0.15),(2014.320,0.47),(2014.338,0.41)]

ARROW_YEARS = [1994.10, 1999.00, 2003.60, 2004.60, 2007.52, 2011.01]
X_TICKS = list(range(1993, 2016, 2))
Y_TICKS = [-1.5, -1.0, -0.5, 0, 0.5, 1.0, 1.5]
Y_TICKTEXT = ["-1.5", "-1.0", "-0.5", "0", "0.5", "1.0", "1.5"]
TITLE_A = "a) NCEP IB only (0.206 ms, correlation=0.864)"
TITLE_B = "b) NCEP IB + GMJ (rms=0.109 ms, correlation=0.958)"
Y_LABEL = "l.o.d."

# ---------------- figure ----------------
W, H = 1836, 947
LAV = "#b0b0ff"
# the captured picture shows the page slightly reduced and shifted; compensate
S, OX, OY = 0.973, 26.0, 14.0

def split(pairs):
    return [p[0] for p in pairs], [p[1] for p in pairs]

def fx(q):
    return ((q - OX) / S) / W

def fy(q):
    return 1 - ((q - OY) / S) / H

def sz(v):
    return v / S

red_a = RED_A_1993_1998 + RED_A_1998_2004 + RED_A_2004_2009 + RED_A_2009_2014
red_b = RED_B_1993_1998 + RED_B_1998_2004 + RED_B_2004_2009 + RED_B_2009_2014
obs = OBS_1993_1998 + OBS_1998_2004 + OBS_2004_2009 + OBS_2009_2014

ox, oy = split(obs)
ax_, ay_ = split(red_a)
bx_, by_ = split(red_b)

fig = go.Figure()
for xa, ya, rx, ry in [("x", "y", ax_, ay_), ("x2", "y2", bx_, by_)]:
    fig.add_trace(go.Scatter(x=ox, y=oy, mode="markers", xaxis=xa, yaxis=ya,
                             marker=dict(color="#808080", size=sz(4)), showlegend=False,
                             hoverinfo="skip"))
    fig.add_trace(go.Scatter(x=rx, y=ry, mode="lines", xaxis=xa, yaxis=ya,
                             line=dict(color="#ff0000", width=sz(3)), showlegend=False))

def dash(a, b):
    return f"{sz(a):.1f}px,{sz(b):.1f}px"

xcommon = dict(range=[1993, 2015], tickmode="array", tickvals=X_TICKS,
               ticktext=[str(t) for t in X_TICKS], ticks="outside", ticklen=sz(17),
               tickwidth=sz(1.5), tickcolor="black", showline=True, linewidth=sz(4),
               linecolor="black", mirror=True, showgrid=True, gridcolor="black",
               gridwidth=sz(1), griddash=dash(28, 7), zeroline=False,
               tickfont=dict(family="Liberation Sans, Arial", size=sz(26), color="black"),
               ticklabelstandoff=int(round(sz(8))), fixedrange=True)
ycommon = dict(range=[-1.5, 1.5], tickmode="array", tickvals=Y_TICKS,
               ticktext=Y_TICKTEXT, ticks="outside", ticklen=sz(16), tickwidth=sz(1.5),
               tickcolor="black", showline=True, linewidth=sz(4), linecolor="black",
               mirror=True, showgrid=True, gridcolor="black", gridwidth=sz(1),
               griddash=dash(19, 11), zeroline=True, zerolinecolor="black",
               zerolinewidth=sz(4),
               tickfont=dict(family="Liberation Sans, Arial", size=sz(24), color="black"),
               ticklabelstandoff=int(round(sz(5))), fixedrange=True)

fig.update_layout(
    autosize=True, margin=dict(l=0, r=0, t=0, b=0),
    paper_bgcolor=LAV, plot_bgcolor="white",
    xaxis=dict(domain=[fx(178), fx(1782)], anchor="y", **xcommon),
    yaxis=dict(domain=[fy(405), fy(80)], anchor="x", **ycommon),
    xaxis2=dict(domain=[fx(175), fx(1779)], anchor="y2", **xcommon),
    yaxis2=dict(domain=[fy(869), fy(544)], anchor="x2", **ycommon),
)

serif = dict(family="Liberation Serif, Times New Roman", size=sz(36), color="black")
fig.add_annotation(text=TITLE_A, x=fx(169), y=fy(47), xref="paper", yref="paper",
                   xanchor="left", yanchor="middle", showarrow=False, font=serif)
fig.add_annotation(text=TITLE_B, x=fx(158), y=fy(508), xref="paper", yref="paper",
                   xanchor="left", yanchor="middle", showarrow=False, font=serif)
for yc, xc in [(245, 71), (710, 68)]:
    fig.add_annotation(text="<b>" + Y_LABEL + "</b>", x=fx(xc), y=fy(yc),
                       xref="paper", yref="paper", xanchor="center", yanchor="middle",
                       textangle=-90, showarrow=False,
                       font=dict(family="Liberation Sans, Arial", size=sz(40), color="black"))

# green arrows in panel b
shapes = []
hs, hh = 0.05, 0.21
for yr in ARROW_YEARS:
    path = (f"M {yr-hs},1.49 L {yr+hs},1.49 L {yr+hs},1.166 L {yr+hh},1.237 "
            f"L {yr},0.945 L {yr-hh},1.237 L {yr-hs},1.166 Z")
    shapes.append(dict(type="path", xref="x2", yref="y2", path=path,
                       fillcolor="#008000", line=dict(width=0), layer="above"))
fig.update_layout(shapes=shapes)

fig.write_html("out.html", config={"responsive": True, "displayModeBar": False},
               default_width="100vw", default_height="100vh",
               post_script=("document.documentElement.style.margin='0';"
                            "document.body.style.margin='0';document.body.style.padding='0';"
                            "document.body.style.overflow='hidden';"
                            "document.documentElement.style.overflow='hidden';"
                            "document.body.style.background='" + LAV + "';"
                            "var gd=document.getElementById('{plot_id}');"
                            "Plotly.Plots.resize(gd);"))
